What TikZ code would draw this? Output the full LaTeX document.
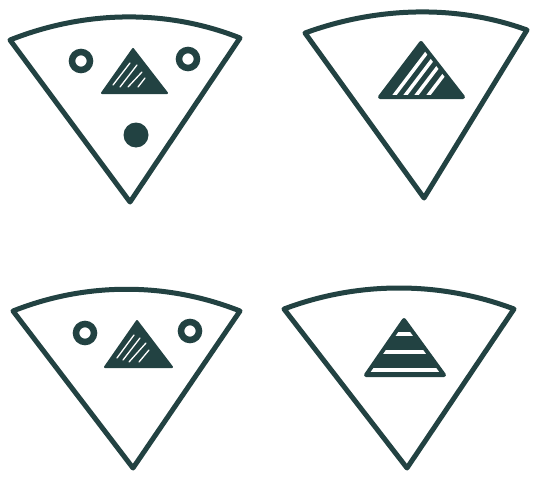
\documentclass[tikz,border=0pt]{standalone}
\definecolor{ink}{RGB}{34,66,66}
\begin{document}
\begin{tikzpicture}[x=1pt,y=-1pt,
  wedge/.style={draw=ink,line width=5pt,line join=round},
  ring/.style={draw=ink,line width=6.5pt},
  dot/.style={fill=ink},
  tri/.style={fill=ink,draw=ink,line width=2pt,line join=round},
  triedge/.style={draw=ink,line width=4pt,line join=round},
  hatchthin/.style={draw=white,line width=1.3pt,line cap=round},
  hatchthick/.style={draw=white,line width=3.5pt},
  band/.style={draw=white,line width=3.8pt}]
\useasboundingbox (0,0) rectangle (534,476);

% ---------- panel 1 (top left)
\draw[wedge] (10,40) .. controls (84,10.6) and (166,8.6) .. (240,38) -- (130,202) -- cycle;
\draw[ring] (81,61) circle (9);
\draw[ring] (188,59) circle (9);
\fill[dot] (136,135) circle (12.5);
\draw[tri] (133,49) -- (102,93) -- (167,93) -- cycle;
\begin{scope}
  \clip (133,49) -- (102,93) -- (167,93) -- cycle;
  \draw[hatchthin] (113,85) -- (130,63);
  \draw[hatchthin] (120,87) -- (137,65);
  \draw[hatchthin] (128,87) -- (142,72);
  \draw[hatchthin] (138,87) -- (145,78);
\end{scope}

% ---------- panel 2 (top right)
\draw[wedge] (305,33) .. controls (376,7) and (456,4) .. (527,30) -- (424,198) -- cycle;
\fill[ink] (421,43) -- (380,97) -- (463,97) -- cycle;
\begin{scope}
  \clip (421,43) -- (380,97) -- (463,97) -- cycle;
  \foreach \x in {393,404,415,427} {
    \draw[hatchthick] (\x,97) -- ++(41,-54);
  }
\end{scope}
\draw[triedge] (421,43) -- (380,97) -- (463,97) -- cycle;

% ---------- panel 3 (bottom left)
\draw[wedge] (13,311) .. controls (86,282) and (167,282) .. (240,311) -- (133,468) -- cycle;
\draw[ring] (85,333) circle (9);
\draw[ring] (190,331) circle (9);
\draw[tri] (137,321) -- (105,367) -- (172,367) -- cycle;
\begin{scope}
  \clip (137,321) -- (105,367) -- (172,367) -- cycle;
  \draw[hatchthin] (117,358) -- (134,335);
  \draw[hatchthin] (123,360) -- (140,338);
  \draw[hatchthin] (129,362) -- (146,343);
  \draw[hatchthin] (139,362) -- (149,350);
\end{scope}

% ---------- panel 4 (bottom right)
\draw[wedge] (284,309) .. controls (358,281) and (440,281) .. (514,309) -- (407,468) -- cycle;
\fill[ink] (404,320) -- (366,375) -- (444,375) -- cycle;
\begin{scope}
  \clip (404,320) -- (366,375) -- (444,375) -- cycle;
  \draw[band] (360,334) -- (450,334);
  \draw[band] (360,352) -- (450,352);
  \draw[band] (360,370) -- (450,370);
\end{scope}
\draw[triedge] (404,320) -- (366,375) -- (444,375) -- cycle;
\end{tikzpicture}
\end{document}
